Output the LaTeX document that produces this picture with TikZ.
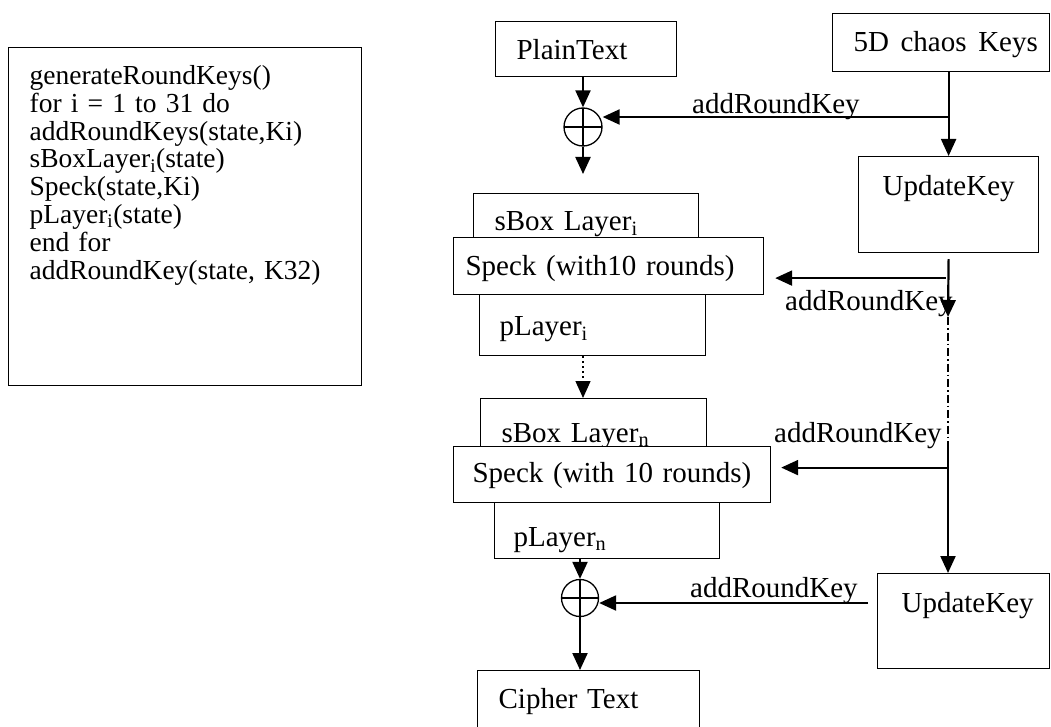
\documentclass[tikz,border=0pt]{standalone}
\usepackage{fontspec}
\setmainfont{Liberation Serif}
\usetikzlibrary{arrows.meta,calc}

\begin{document}
\begin{tikzpicture}[x=1pt, y=-1pt,
    every node/.style={font=\fontsize{29}{34}\selectfont},
    blk/.style n args={4}{draw, fill=white, line width=1.2pt, anchor=north west,
      align=left, inner ysep=0pt, text width=#1, inner xsep=#2, text height=#3, text depth=#4},
    lbl/.style={anchor=base west, inner sep=0pt},
    xorop/.style={circle, draw, line width=1.3pt, minimum size=#1, inner sep=0pt,
      path picture={\draw[line width=1.3pt] (path picture bounding box.north) -- (path picture bounding box.south)
        (path picture bounding box.west) -- (path picture bounding box.east);}},
    arr/.style={-{Triangle[length=17pt,width=15pt]}, line width=2.2pt},
    keyline/.style={line width=1.4pt}]
  \useasboundingbox (0,0) rectangle (1051,727);

  % algorithm listing
  \node[blk={311pt}{21pt}{37pt}{301pt}, font=\fontsize{27.5}{27.8}\selectfont] (algo) at (8,47) {generateRoundKeys()\\
    for i = 1 to 31 do\\
    addRoundKeys(state,Ki)\\
    sBoxLayer\textsubscript{i}(state)\\
    Speck(state,Ki)\\
    pLayer\textsubscript{i}(state)\\
    end for\\
    addRoundKey(state, K32)};

  % key schedule
  \node[blk={175pt}{21pt}{38pt}{20pt}] (keys) at (832,13) {\mbox{5D\hspace{0.4em}chaos\hspace{0.4em}Keys}};
  \node[blk={132pt}{24pt}{39pt}{57pt}] (upd1) at (858,156) {UpdateKey};
  \node[blk={124pt}{24pt}{39pt}{56pt}] (upd2) at (877,573) {UpdateKey};

  % cipher rounds
  \node[blk={139pt}{21pt}{38pt}{17pt}] (plain) at (495,21) {PlainText};
  \node[xorop=38pt] (xor1) at (583,127) {};
  \node[blk={183pt}{21pt}{37pt}{20pt}] (sbox1) at (473,193) {sBox Layer\textsubscript{i}};
  \node[blk={286pt}{12pt}{38pt}{19pt}] (speck1) at (453,237) {\mbox{Speck (with10 rounds)}};
  \node[blk={186pt}{20pt}{41pt}{20pt}] (play1) at (479,294) {pLayer\textsubscript{i}};
  \node[blk={184pt}{21pt}{44pt}{13pt}] (sbox2) at (480,398) {sBox Layer\textsubscript{n}};
  \node[blk={279pt}{19pt}{36pt}{20pt}] (speck2) at (453,446) {\mbox{Speck (with 10 rounds)}};
  \node[blk={187pt}{19pt}{44pt}{12pt}] (play2) at (494,502) {pLayer\textsubscript{n}};
  \node[xorop=37pt] (xor2) at (580,598) {};
  \node[blk={180pt}{21pt}{38pt}{37pt}] (cipher) at (477,670) {Cipher Text};

  % key labels
  \node[lbl] (ark1) at (692,114) {addRoundKey};
  \node[lbl] (ark2) at (785,310) {addRoundKey};
  \node[lbl] (ark3) at (774,442) {addRoundKey};
  \node[lbl] (ark4) at (690,597) {addRoundKey};

  \coordinate (dd1) at (948,317);
  \coordinate (dd2) at (948,443);
  \coordinate (k1) at ([yshift=10pt]xor1.east);
  \coordinate (k2) at ([yshift=-12pt]speck1.east);
  \coordinate (k3) at ([yshift=7pt]speck2.east);
  \coordinate (k4) at ([yshift=-5pt]xor2.east);

  % data path
  \draw[arr] (plain.south -| xor1) -- (xor1.north);
  \draw[arr, shorten >=19pt] (xor1.south) -- (xor1.south |- sbox1.north);
  \draw[arr, dash pattern=on 2pt off 3pt, line width=1.4pt] (play1.south -| xor1) -- (sbox2.north -| xor1);
  \draw[arr] (play2.south -| xor2) -- (xor2.north);
  \draw[arr] (xor2.south) -- (xor2.south |- cipher.north);

  % key path
  \draw[arr] (keys.south -| upd1.north) -- (upd1.north);
  \draw[arr] (upd1.north |- k1) -- (k1);
  \draw[arr] ([yshift=-6pt]upd1.south) -- (dd1);
  \draw[keyline, dash pattern=on 8pt off 3pt on 1.5pt off 3pt] (dd1) -- (dd2);
  \draw[arr] (dd2) -- (dd2 |- upd2.north);
  \draw[arr, shorten <=3pt, shorten >=11pt] (upd1.south |- k2) -- (k2);
  \draw[arr, shorten >=10pt] (dd2 |- k3) -- (k3);
  \draw[arr, shorten <=9pt] (upd2.west |- k4) -- (k4);
\end{tikzpicture}
\end{document}
